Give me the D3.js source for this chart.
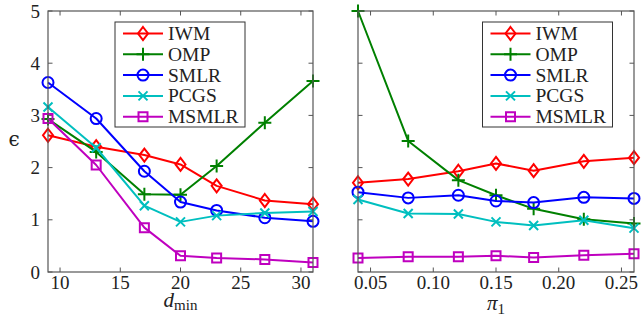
<!DOCTYPE html>
<html>
<head>
<meta charset="utf-8">
<script src="https://cdn.jsdelivr.net/npm/d3@7"></script>
<style>
  html, body { margin: 0; padding: 0; background: #fff; }
</style>
</head>
<body>
<svg id="chart" width="644" height="320"></svg>
<script>
// ---------- data ----------
const seriesNames = ["IWM", "OMP", "SMLR", "PCGS", "MSMLR"];
const seriesColors = ["#ff0000", "#008000", "#0000ff", "#00bfbf", "#bf00bf"];
const seriesMarkers = ["diamond", "plus", "circle", "cross", "square"];

const dminValues = [9, 13, 17, 20, 23, 27, 31];
const iwmDmin   = [2.62, 2.40, 2.24, 2.06, 1.65, 1.37, 1.30];
const ompDmin   = [2.93, 2.30, 1.49, 1.48, 2.03, 2.86, 3.66];
const smlrDmin  = [3.63, 2.94, 1.93, 1.34, 1.18, 1.04, 0.97];
const pcgsDmin  = [3.16, 2.38, 1.27, 0.96, 1.08, 1.13, 1.16];
const msmlrDmin = [2.94, 2.05, 0.85, 0.31, 0.27, 0.24, 0.18];

const pi1Values = [0.04, 0.08, 0.12, 0.15, 0.18, 0.22, 0.26];
const iwmPi   = [1.71, 1.78, 1.93, 2.08, 1.94, 2.12, 2.19];
const ompPi   = [5.00, 2.51, 1.76, 1.47, 1.21, 1.01, 0.93];
const smlrPi  = [1.53, 1.42, 1.47, 1.36, 1.33, 1.43, 1.41];
const pcgsPi  = [1.39, 1.12, 1.11, 0.96, 0.89, 0.99, 0.84];
const msmlrPi = [0.27, 0.29, 0.29, 0.31, 0.28, 0.32, 0.35];

const yTicks = [0, 1, 2, 3, 4, 5];
const dminTicks = [10, 15, 20, 25, 30];
const pi1Ticks = [0.05, 0.10, 0.15, 0.20, 0.25];
const pi1TickLabels = ["0.05", "0.10", "0.15", "0.20", "0.25"];

// ---------- drawing ----------
const SERIF = "Liberation Serif";
const svg = d3.select("#chart");
const plotTop = 11, plotBottom = 272;
const frameColor = "#555";
const textColor = "#222";

function txt(g) {
  return g.append("text").attr("font-family", SERIF).attr("fill", textColor);
}

function markerPath(type) {
  switch (type) {
    case "diamond": return "M0,-6.5L5,0L0,6.5L-5,0Z";
    case "plus": return "M0,-6.5V6.5M-6.5,0H6.5";
    case "cross": return "M-4.5,-4.5L4.5,4.5M-4.5,4.5L4.5,-4.5";
    case "square": return "M-4.5,-4.5H4.5V4.5H-4.5Z";
  }
}

function drawMarker(g, type, color, x, y) {
  if (type === "circle") {
    g.append("circle").attr("cx", x).attr("cy", y).attr("r", 5.5)
      .attr("fill", "none").attr("stroke", color).attr("stroke-width", 2);
  } else {
    g.append("path").attr("d", markerPath(type))
      .attr("transform", `translate(${x},${y})`)
      .attr("fill", "none").attr("stroke", color).attr("stroke-width", 2);
  }
}

function panel(opts) {
  const x = d3.scaleLinear().domain(opts.xDomain).range([opts.x0, opts.x1]);
  const y = d3.scaleLinear().domain([0, 5]).range([plotBottom, plotTop]);
  const g = svg.append("g");

  // ticks inward on all sides
  const tl = 4.5;
  opts.xTicks.forEach(t => {
    g.append("line").attr("x1", x(t)).attr("x2", x(t)).attr("y1", plotBottom).attr("y2", plotBottom - tl)
      .attr("stroke", frameColor).attr("stroke-width", 1);
    g.append("line").attr("x1", x(t)).attr("x2", x(t)).attr("y1", plotTop).attr("y2", plotTop + tl)
      .attr("stroke", frameColor).attr("stroke-width", 1);
  });
  yTicks.forEach(t => {
    g.append("line").attr("x1", opts.x0).attr("x2", opts.x0 + tl).attr("y1", y(t)).attr("y2", y(t))
      .attr("stroke", frameColor).attr("stroke-width", 1);
    g.append("line").attr("x1", opts.x1).attr("x2", opts.x1 - tl).attr("y1", y(t)).attr("y2", y(t))
      .attr("stroke", frameColor).attr("stroke-width", 1);
  });

  // tick labels
  opts.xTicks.forEach((t, i) => {
    txt(g).attr("x", x(t)).attr("y", plotBottom + 17).attr("text-anchor", "middle")
      .attr("font-size", 19).text(opts.xTickLabels[i]);
  });
  if (opts.yLabels) {
    yTicks.forEach(t => {
      txt(g).attr("x", opts.x0 - 8).attr("y", y(t) + 6.5).attr("text-anchor", "end")
        .attr("font-size", 19).text(t);
    });
  }

  // series
  const line = d3.line().x(d => x(d[0])).y(d => y(d[1]));
  opts.series.forEach((vals, si) => {
    const pts = opts.xValues.map((xv, i) => [xv, vals[i]]);
    g.append("path").attr("d", line(pts)).attr("fill", "none")
      .attr("stroke", seriesColors[si]).attr("stroke-width", 2).attr("stroke-linejoin", "round");
    pts.forEach(p => drawMarker(g, seriesMarkers[si], seriesColors[si], x(p[0]), y(p[1])));
  });

  // frame
  g.append("rect").attr("x", opts.x0).attr("y", plotTop).attr("width", opts.x1 - opts.x0)
    .attr("height", plotBottom - plotTop).attr("fill", "none").attr("stroke", frameColor).attr("stroke-width", 1.2);

  // legend
  const lx = opts.legendX, ly = 22, lw = 130, lh = 105;
  const lg = g.append("g");
  lg.append("rect").attr("x", lx).attr("y", ly).attr("width", lw).attr("height", lh)
    .attr("fill", "#fff").attr("stroke", "#333").attr("stroke-width", 1);
  seriesNames.forEach((name, i) => {
    const ry = ly + 11.5 + i * 20.8;
    lg.append("line").attr("x1", lx + 8).attr("x2", lx + 48).attr("y1", ry).attr("y2", ry)
      .attr("stroke", seriesColors[i]).attr("stroke-width", 2);
    drawMarker(lg, seriesMarkers[i], seriesColors[i], lx + 28, ry);
    txt(lg).attr("x", lx + 53).attr("y", ry + 6.5).attr("font-size", 19.5).text(name);
  });

  // x-axis title
  const cx = (opts.x0 + opts.x1) / 2;
  opts.xTitle(g, cx);
}

panel({
  x0: 48, x1: 313, xDomain: [9, 31],
  xTicks: dminTicks, xTickLabels: dminTicks.map(String),
  xValues: dminValues,
  series: [iwmDmin, ompDmin, smlrDmin, pcgsDmin, msmlrDmin],
  yLabels: true, legendX: 115,
  xTitle: (g, cx) => {
    const t = txt(g).attr("x", cx).attr("y", 307).attr("text-anchor", "middle");
    t.append("tspan").attr("font-style", "italic").attr("font-size", 21).text("d");
    t.append("tspan").attr("font-size", 15).attr("dy", 3).text("min");
  }
});

panel({
  x0: 358, x1: 634, xDomain: [0.04, 0.26],
  xTicks: pi1Ticks, xTickLabels: pi1TickLabels,
  xValues: pi1Values,
  series: [iwmPi, ompPi, smlrPi, pcgsPi, msmlrPi],
  yLabels: false, legendX: 482.5,
  xTitle: (g, cx) => {
    const t = txt(g).attr("x", cx).attr("y", 310).attr("text-anchor", "middle");
    t.append("tspan").attr("font-style", "italic").attr("font-size", 21).text("π");
    t.append("tspan").attr("font-size", 15).attr("dy", 4).text("1");
  }
});

// y-axis title
txt(svg).attr("x", 14).attr("y", 146).attr("text-anchor", "middle")
  .attr("font-size", 20).attr("font-family", "DejaVu Serif").text("\u03F5");
</script>
</body>
</html>
